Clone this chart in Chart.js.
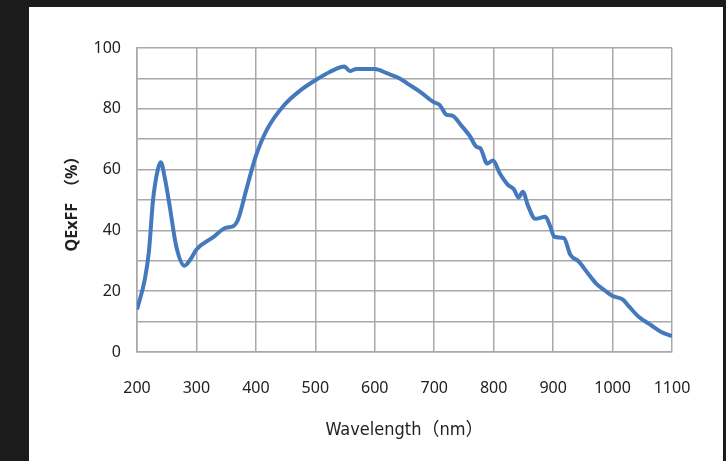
<!DOCTYPE html>
<html>
<head>
<meta charset="utf-8">
<script src="https://cdn.jsdelivr.net/npm/chart.js@4.4.1/dist/chart.umd.min.js"></script>
<style>
  html, body { margin: 0; padding: 0; background: #1b1b1b; overflow: hidden; }
  #panel { position: absolute; left: 29px; top: 7px; width: 694px; height: 460px; background: #ffffff; }
  #chart { position: absolute; left: 0; top: 0; }
</style>
</head>
<body>
<div id="panel"></div>
<canvas id="chart" width="726" height="461"></canvas>
<script>
// wavelength (nm) and QE x FF (%)
const wavelengths = [200, 213, 220, 227, 235, 240, 247, 255, 266, 280, 290, 300, 327, 350, 361, 370, 384, 400,
  419, 447, 475, 500, 525, 549, 558, 569, 600, 620, 642, 655, 677, 699, 709, 721, 730, 746, 760, 771, 778,
  789, 799, 810, 824, 834, 842, 849, 858, 870, 887, 895, 902, 918, 929, 943, 958, 972, 986, 1000, 1017,
  1028, 1045, 1065, 1082, 1100];
const qeff = [14, 23.7, 33, 50, 60, 62.4, 57, 48, 34.8, 28.4, 30.5, 33.7, 37.6, 40.9, 41.3, 43.6, 53.5, 64.5,
  73.3, 81.1, 86.1, 89.4, 92.2, 93.9, 92.4, 93.1, 93.1, 91.7, 90, 88.3, 85.5, 82.2, 81.3, 78, 77.8, 74.4, 71, 67.5, 66.9,
  62, 63, 58.9, 55, 53.5, 50.8, 52.7, 48, 43.8, 44.5, 41.4, 37.9, 37.5, 32, 29.8, 26, 22.6, 20.4, 18.4, 17.3,
  14.9, 11.4, 8.8, 6.6, 5.2];
const xTicks = [200, 300, 400, 500, 600, 700, 800, 900, 1000, 1100];
const yTicks = [0, 20, 40, 60, 80, 100];

const points = wavelengths.map((w, i) => ({ x: w, y: qeff[i] }));
const gridGray = '#a8a8a8';
const tickFont = { family: "'Noto Sans', sans-serif", size: 16 };

new Chart(document.getElementById('chart'), {
  type: 'line',
  data: {
    datasets: [{
      data: points,
      borderColor: '#4479be',
      borderWidth: 4,
      pointRadius: 0,
      cubicInterpolationMode: 'monotone',
      fill: false
    }]
  },
  options: {
    responsive: false,
    animation: false,
    layout: { padding: { left: 50, top: 48, right: 54, bottom: 0 } },
    plugins: { legend: { display: false }, tooltip: { enabled: false } },
    scales: {
      x: {
        type: 'linear',
        min: 200,
        max: 1100,
        afterFit: (s) => { s.height = 109; },
        afterBuildTicks: (s) => { s.ticks = xTicks.map(v => ({ value: v })); },
        grid: { color: gridGray, lineWidth: 1.5, drawTicks: false },
        border: { color: gridGray, width: 1.5 },
        ticks: { color: '#222', font: tickFont, padding: 27, maxRotation: 0, callback: (v) => String(v) },
        title: {
          display: true,
          text: 'Wavelength（nm）',
          color: '#222',
          font: { family: "'DejaVu Sans Condensed', 'Noto Sans CJK JP', sans-serif", size: 18 },
          padding: { top: 0, bottom: 20 }
        }
      },
      y: {
        min: 0,
        max: 100,
        afterFit: (s) => { s.width = 87; },
        ticks: {
          stepSize: 10,
          color: '#222',
          font: tickFont,
          padding: 16,
          callback: (v) => yTicks.includes(v) ? String(v) : ''
        },
        grid: { color: gridGray, lineWidth: 1.5, drawTicks: false },
        border: { color: gridGray, width: 1.5 },
        title: {
          display: true,
          text: 'QExFF　（%）',
          color: '#222',
          font: { family: "'Noto Sans', 'Noto Sans CJK JP', sans-serif", size: 16, weight: 'bold' },
          padding: { top: 13, bottom: 0 }
        }
      }
    }
  }
});
</script>
</body>
</html>
